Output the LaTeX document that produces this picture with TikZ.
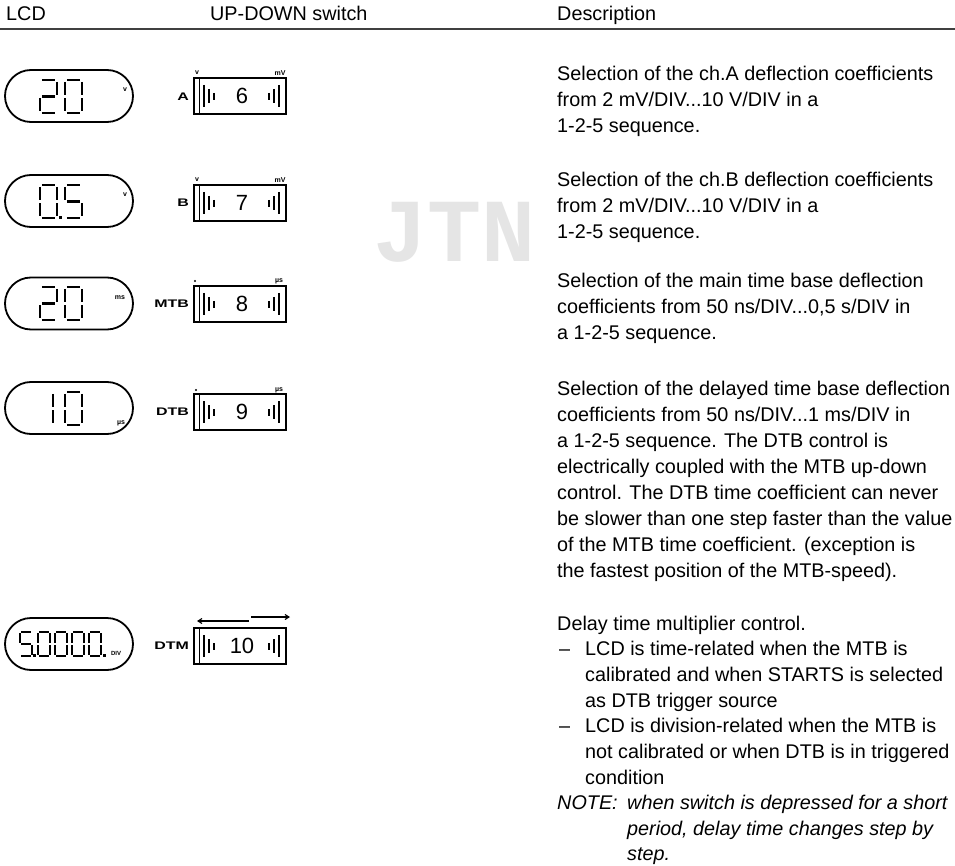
\documentclass[tikz,border=0pt]{standalone}
\usepackage{fontspec}
\setmainfont{Liberation Sans}
\setmonofont{Liberation Mono}
\usetikzlibrary{shapes.misc,arrows.meta}

\tikzset{
  pill/.style={draw, line width=1.8pt, rounded rectangle, minimum width=128pt, minimum height=52pt, inner sep=0pt},
  swbox/.style={draw, line width=1.3pt, minimum width=92pt, minimum height=36pt, inner sep=0pt},
  segline/.style={line width=2.4pt},
  desc/.style={anchor=base west, inner sep=0pt, font=\fontsize{19.8}{24}\selectfont},
  note/.style={desc, font=\itshape\fontsize{19.8}{24}\selectfont},
  hdr/.style={anchor=base west, inner sep=0pt, font=\fontsize{19.8}{24}\selectfont},
  swlabel/.style={anchor=east, inner sep=0pt, font=\bfseries\fontsize{11}{12}\selectfont},
  swnum/.style={inner sep=0pt, font=\fontsize{22}{24}\selectfont},
  tinytxt/.style={inner sep=0pt, font=\bfseries\fontsize{7}{8}\selectfont},
  barline/.style={line width=1.1pt},
  dirarrow/.style={line width=1.1pt, -{Straight Barb[length=4pt,width=5pt]}},
}

% seven-segment digit: x, y (top-left), width, height, segment list macro
\def\dgG{1.8}
\def\SEGa{\draw[segline] (\dgG,0) -- (\dgW-\dgG,0);}
\def\SEGb{\draw[segline] (\dgW,\dgG) -- (\dgW,\dgH/2-\dgG);}
\def\SEGc{\draw[segline] (\dgW,\dgH/2+\dgG) -- (\dgW,\dgH-\dgG);}
\def\SEGd{\draw[segline] (\dgG,\dgH) -- (\dgW-\dgG,\dgH);}
\def\SEGe{\draw[segline] (0,\dgH/2+\dgG) -- (0,\dgH-\dgG);}
\def\SEGf{\draw[segline] (0,\dgG) -- (0,\dgH/2-\dgG);}
\def\SEGg{\draw[segline] (\dgG,\dgH/2) -- (\dgW-\dgG,\dgH/2);}
\newcommand\segdigit[5]{%
  \begin{scope}[shift={(#1,#2)}]
    \def\dgW{#3}\def\dgH{#4}%
    \foreach \sgm in #5{\csname SEG\sgm\endcsname}
  \end{scope}}
\def\DZ{a,b,c,d,e,f}
\def\DO{b,c}
\def\DT{a,b,g,e,d}
\def\DF{a,f,g,c,d}

% up-down switch: name, cx, cy, number
\newcommand\upsw[4]{%
  \node[swbox] (#1) at (#2,#3) {};
  \draw[line width=1.1pt] ([xshift=6pt]#1.north west) -- ([xshift=6pt]#1.south west);
  \draw[barline] (#2-36,#3-11) -- (#2-36,#3+11);
  \draw[barline] (#2-31,#3-7) -- (#2-31,#3+7);
  \draw[barline] (#2-26,#3-3) -- (#2-26,#3+4);
  \draw[barline] (#2+29,#3-3) -- (#2+29,#3+4);
  \draw[barline] (#2+34,#3-7) -- (#2+34,#3+7);
  \draw[barline] (#2+39,#3-11) -- (#2+39,#3+11);
  \node[swnum] (#1num) at (#2+2,#3) {#4};}

\begin{document}
\begin{tikzpicture}[x=1pt,y=-1pt]
\useasboundingbox (0,0) rectangle (955,866);

% watermark
\node[text=black!10, font=\ttfamily\bfseries\fontsize{90}{90}\selectfont] (wm) at (455,232) {JTN};

% header
\node[hdr] (hLCD) at (6,21) {LCD};
\node[hdr] (hSW) at (210,21) {UP-DOWN switch};
\node[hdr] (hDesc) at (557,21) {Description};
\coordinate (hlL) at (0,29);
\coordinate (hlR) at (955,29);
\draw[line width=2pt, black!75] (hlL) -- (hlR);

% ---------- row 1 : A ----------
\node[pill] (lcdA) at (69,96) {};
\segdigit{40}{80}{17}{33}{\DT}
\segdigit{65}{80}{17}{33}{\DZ}
\node[tinytxt] (uA) at (125,90) {v};
\node[swlabel] (lA) at (189,97) {\scalebox{1.45}[1]{A}};
\upsw{swA}{240}{96}{6}
\node[tinytxt] (tA1) at (197,73) {v};
\node[tinytxt] (tA2) at (280,73) {mV};

% ---------- row 2 : B ----------
\node[pill] (lcdB) at (69,201) {};
\segdigit{40}{185}{17}{33}{\DZ}
\fill (58.5,216) rectangle +(3,3);
\segdigit{65}{185}{17}{33}{\DF}
\node[tinytxt] (uB) at (125,195) {v};
\node[swlabel] (lB) at (189,203) {\scalebox{1.45}[1]{B}};
\upsw{swB}{240}{203}{7}
\node[tinytxt] (tB1) at (197,180) {v};
\node[tinytxt] (tB2) at (280,180) {mV};

% ---------- row 3 : MTB ----------
\node[pill] (lcdM) at (69,303.5) {};
\segdigit{40}{287}{17}{33}{\DT}
\segdigit{65}{287}{17}{33}{\DZ}
\node[tinytxt] (uM) at (120,298) {ms};
\node[swlabel] (lM) at (189,304) {\scalebox{1.45}[1]{MTB}};
\upsw{swM}{240}{304}{8}
\fill (195,281) circle (1.2);
\node[tinytxt] (tM2) at (279,281) {µs};

% ---------- row 4 : DTB ----------
\node[pill] (lcdD) at (69,408) {};
\segdigit{36}{392}{17}{33}{\DO}
\segdigit{65}{392}{17}{33}{\DZ}
\node[tinytxt] (uD) at (121,423) {µs};
\node[swlabel] (lD) at (189,412) {\scalebox{1.45}[1]{DTB}};
\upsw{swD}{240}{412}{9}
\fill (196,390) circle (1.2);
\node[tinytxt] (tD2) at (279,390) {µs};

% ---------- row 5 : DTM ----------
\node[pill] (lcdT) at (69,644) {};
\begin{scope}[segline/.style={line width=2pt}]
\def\dgG{1.4}
\segdigit{20}{632}{12}{24}{\DF}
\segdigit{38}{632}{12}{24}{\DZ}
\segdigit{55}{632}{12}{24}{\DZ}
\segdigit{72}{632}{12}{24}{\DZ}
\segdigit{89}{632}{12}{24}{\DZ}
\end{scope}
\fill (33,654) rectangle +(2.5,2.5);
\fill (103,654) rectangle +(2.5,2.5);
\node[tinytxt, font=\bfseries\fontsize{6}{7}\selectfont] (uT) at (116,653) {DIV};
\node[swlabel] (lT) at (189,646) {\scalebox{1.45}[1]{DTM}};
\upsw{swT}{240}{646}{10}
\coordinate (aL0) at (249,621);
\coordinate (aL1) at (197,621);
\coordinate (aR0) at (251,617);
\coordinate (aR1) at (290,617);
\draw[dirarrow] (aL0) -- (aL1);
\draw[dirarrow] (aR0) -- (aR1);

% ---------- descriptions ----------
\node[desc] (d1a) at (557,81) {Selection of the ch.A deflection coefficients};
\node[desc] (d1b) at (557,107) {from 2 mV/DIV...10 V/DIV in a};
\node[desc] (d1c) at (557,133) {1-2-5 sequence.};

\node[desc] (d2a) at (557,187) {Selection of the ch.B deflection coefficients};
\node[desc] (d2b) at (557,213) {from 2 mV/DIV...10 V/DIV in a};
\node[desc] (d2c) at (557,239) {1-2-5 sequence.};

\node[desc] (d3a) at (557,288) {Selection of the main time base deflection};
\node[desc] (d3b) at (557,314) {coefficients from 50 ns/DIV...0,5 s/DIV in};
\node[desc] (d3c) at (557,340) {a 1-2-5 sequence.};

\node[desc] (d4a) at (557,395) {Selection of the delayed time base deflection};
\node[desc] (d4b) at (557,421) {coefficients from 50 ns/DIV...1 ms/DIV in};
\node[desc] (d4c) at (557,447) {a 1-2-5 sequence. The DTB control is};
\node[desc] (d4d) at (557,473) {electrically coupled with the MTB up-down};
\node[desc] (d4e) at (557,499) {control. The DTB time coefficient can never};
\node[desc] (d4f) at (557,525) {be slower than one step faster than the value};
\node[desc] (d4g) at (557,551) {of the MTB time coefficient. (exception is};
\node[desc] (d4h) at (557,577) {the fastest position of the MTB-speed).};

\node[desc] (d5a) at (557,630) {Delay time multiplier control.};
\node[desc] (d5b0) at (559,655) {–};
\node[desc] (d5b) at (585,655) {LCD is time-related when the MTB is};
\node[desc] (d5c) at (585,681) {calibrated and when STARTS is selected};
\node[desc] (d5d) at (585,707) {as DTB trigger source};
\node[desc] (d5e0) at (559,732) {–};
\node[desc] (d5e) at (585,732) {LCD is division-related when the MTB is};
\node[desc] (d5f) at (585,758) {not calibrated or when DTB is in triggered};
\node[desc] (d5g) at (585,784) {condition};
\node[note] (d5h0) at (557,809) {NOTE:};
\node[note] (d5h) at (627,809) {when switch is depressed for a short};
\node[note] (d5i) at (627,835) {period, delay time changes step by};
\node[note] (d5j) at (627,860) {step.};
\end{tikzpicture}
\end{document}
